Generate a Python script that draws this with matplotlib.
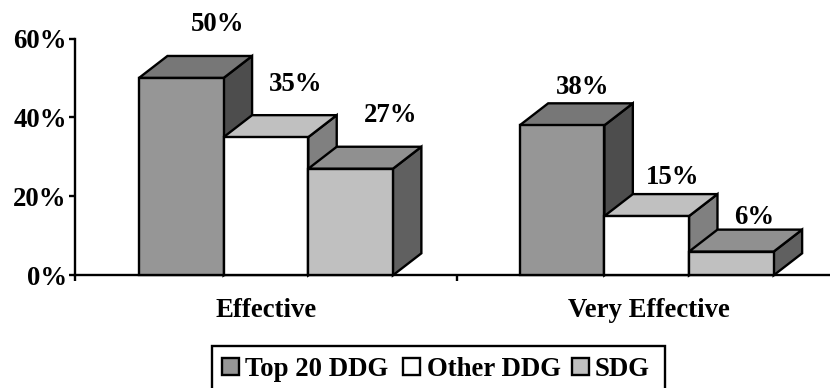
import matplotlib
matplotlib.use('Agg')
import matplotlib.pyplot as plt
from matplotlib.patches import Polygon, Rectangle

categories = ['Effective', 'Very Effective']
series_names = ['Top 20 DDG', 'Other DDG', 'SDG']
top20 = [50, 38]
other = [35, 15]
sdg = [27, 6]
y_ticks = [0, 20, 40, 60]

front_colors = ['#969696', '#ffffff', '#c0c0c0']
top_colors = ['#777777', '#c0c0c0', '#909090']
side_colors = ['#4d4d4d', '#808080', '#606060']

W, H = 830, 388
plt.rcParams['font.family'] = ['Liberation Serif', 'DejaVu Serif']
plt.rcParams['font.weight'] = 'bold'

fig = plt.figure(figsize=(W / 100, H / 100), dpi=100)
# axes box in pixels: left 74.5, right 840, y zero at 275, 60% at 38.5
ax = fig.add_axes([74.5 / W, (H - 275.3) / H, 765.5 / W, (275.3 - 38.5) / H])
ax.set_xlim(0, 2)
ax.set_ylim(0, 60)
ax.patch.set_alpha(0)

for s in ['top', 'right']:
    ax.spines[s].set_visible(False)
ax.spines['left'].set_linewidth(1.7)
ax.spines['bottom'].set_linewidth(1.7)

ax.set_yticks(y_ticks)
ax.set_yticklabels([str(v) + '%' for v in y_ticks], fontsize=19.3, fontweight='bold')
ax.set_xticks([0, 1, 2])
ax.set_xticklabels(['', '', ''])
ax.tick_params(axis='both', length=4.5, width=1.7, direction='out', pad=1)

bar_w = 84.7 / 383.0   # bar width in x units
start = [64.5 / 383.0, 445.5 / 383.0]
dx = 28.5 / 383.0      # depth of the bars
dy = 22.0 / 3.947      # depth in percent units
lw = 1.7

# label shift from the top of each bar, pixels
label_off = [[(36, 19), (21, 3)], [(30, 18), (26, 4)], [(40, 19), (23, 0)]]
all_series = [top20, other, sdg]
for g in range(2):
    for i, vals in enumerate(all_series):
        v = vals[g]
        x0 = start[g] + i * bar_w
        x1 = x0 + bar_w
        side = Polygon([(x1, 0), (x1 + dx, dy), (x1 + dx, v + dy), (x1, v)], closed=True,
                       facecolor=side_colors[i], edgecolor='black', lw=lw, zorder=3 + i, clip_on=False)
        top = Polygon([(x0, v), (x0 + dx, v + dy), (x1 + dx, v + dy), (x1, v)], closed=True,
                      facecolor=top_colors[i], edgecolor='black', lw=lw, zorder=3 + i, clip_on=False)
        front = Rectangle((x0, 0), bar_w, v, facecolor=front_colors[i], edgecolor='black',
                          lw=lw, zorder=3 + i, clip_on=False)
        ax.add_patch(side)
        ax.add_patch(top)
        ax.add_patch(front)
        ax.annotate(str(v) + '%', xy=(x0 + bar_w / 2, v + dy), xytext=label_off[i][g],
                    textcoords='offset pixels', ha='center', va='bottom', fontsize=19.3, fontweight='bold',
                    zorder=10, annotation_clip=False)

for g, c in enumerate(categories):
    ax.text(g + 0.5, -8.8, c, ha='center', va='center', fontsize=19.3, fontweight='bold')

# legend box, its bottom edge falls outside the picture
lx0, lx1, ly0, ly1 = 212, 665, 346, 396
fig.add_artist(Rectangle((lx0 / W, 1 - ly1 / H), (lx1 - lx0) / W, (ly1 - ly0) / H, transform=fig.transFigure,
                         facecolor='white', edgecolor='black', lw=1.7))
swatch_x = [222, 403, 572]
text_x = [245, 427, 595]
for i, name in enumerate(series_names):
    fig.add_artist(Rectangle((swatch_x[i] / W, 1 - 375 / H), 16.5 / W, 17.5 / H, transform=fig.transFigure,
                             facecolor=front_colors[i], edgecolor='black', lw=1.7))
    fig.text(text_x[i] / W, 1 - 369 / H, name, ha='left', va='center', fontsize=19.3, fontweight='bold')

fig.savefig('out.png', dpi=100)
